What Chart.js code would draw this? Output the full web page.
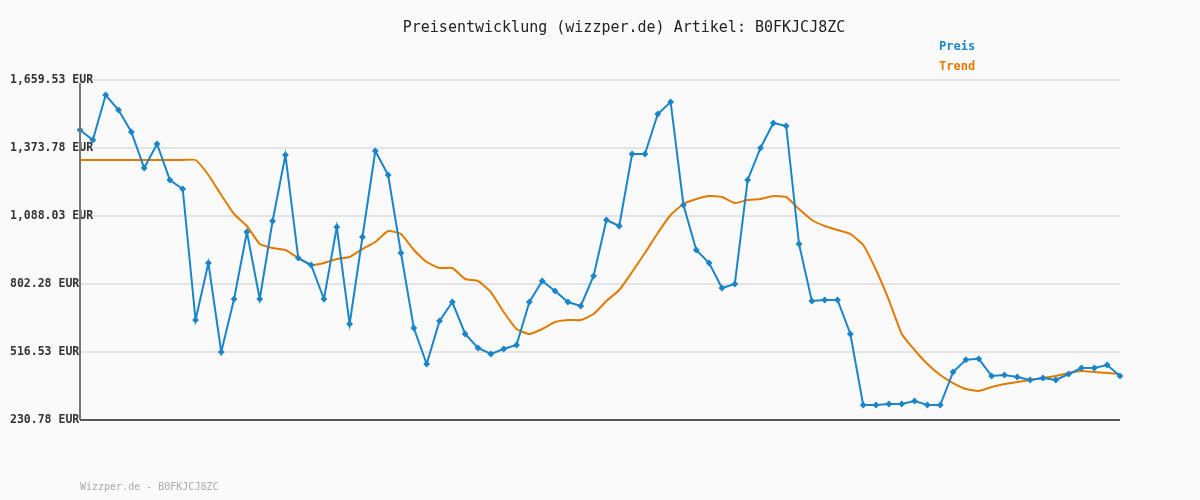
<!DOCTYPE html>
<html><head><meta charset="utf-8">
<script src="https://cdn.jsdelivr.net/npm/chart.js@4/dist/chart.umd.min.js"></script>
<style>html,body{margin:0;padding:0;background:#fafafa}#w{width:1200px;height:500px}</style>
</head><body><div id="w"><canvas id="c"></canvas></div>
<script>
const title = "Preisentwicklung (wizzper.de) Artikel: B0FKJCJ8ZC";
const footer = "Wizzper.de - B0FKJCJ8ZC";
const priceValues = [1449.4,1407.4,1596.5,1533.5,1441,1289.7,1390.6,1239.3,1201.5,651,890.5,516.5,739.2,1020.8,739.2,1067,1344.4,911.5,882.1,739.2,1041.8,634.2,999.8,1361.2,1260.3,932.5,617.4,466.1,646.8,726.6,592.2,533.3,508.1,529.1,545.9,726.6,814.9,772.9,726.6,709.8,835.9,1071.2,1046,1348.5,1348.5,1516.6,1567.1,1134.3,945.1,890.5,785.5,802.3,1239.3,1373.8,1478.8,1466.2,970.4,730.8,735,735,592.2,293.8,293.8,298,298,310.6,293.8,293.8,432.5,483.9,488,415.7,419.9,411.5,398.9,407.3,398.9,424.1,449.2,449.2,461.9,415.7];
const trendValues = [1323.4,1323.4,1323.4,1323.4,1323.4,1323.4,1323.4,1323.4,1323.4,1323.4,1260.3,1176.3,1096.4,1046,970.4,953.6,945.1,911.5,882.1,890.5,907.3,915.7,949.3,978.7,1025,1012.4,945.1,894.7,869.5,869.5,823.3,814.9,768.6,684.6,613.2,592.2,613.2,642.6,651,651,676.2,730.8,777,852.7,932.5,1016.6,1092.2,1138.5,1159.5,1172,1167.8,1142.6,1155.2,1159.5,1172,1167.8,1117.4,1071.2,1046,1029.2,1012.4,966.2,861.1,735,592.2,525,466.1,419.9,386.2,361,352.6,369.5,382.1,390.5,398.9,407.3,415.7,428.3,436.7,432.5,428.3,424.1];
const yTicks = [230.78,516.53,802.28,1088.03,1373.78,1659.53];
const labels = priceValues.map(()=> "");
const FONT = "'DejaVu Sans Mono', monospace";

const deco = {
  id:'deco',
  afterDraw(ch){
    const c = ch.ctx, y = ch.scales.y, a = ch.chartArea;
    c.save();
    c.fillStyle = '#222'; c.font = '15px '+FONT; c.textAlign='center'; c.textBaseline='middle';
    c.fillText(title, 624, 28);
    c.font = 'bold 12px '+FONT; c.textAlign='left';
    c.fillStyle = '#1a85c8'; c.fillText('Preis', 939, 47);
    c.fillStyle = '#e07b00'; c.fillText('Trend', 939, 67);
    c.fillStyle = '#333'; c.font = 'bold 11.5px '+FONT;
    yTicks.forEach(v=>{
      const s = v.toLocaleString('en-US',{minimumFractionDigits:2,maximumFractionDigits:2})+' EUR';
      c.fillText(s, 10, y.getPixelForValue(v));
    });
    c.strokeStyle='#777'; c.lineWidth=2;
    c.beginPath(); c.moveTo(a.left, a.top+3); c.lineTo(a.left, a.bottom); c.stroke();
    c.strokeStyle='#555';
    c.beginPath(); c.moveTo(a.left, a.bottom); c.lineTo(a.right, a.bottom); c.stroke();
    c.fillStyle='#aaa'; c.font='10px '+FONT;
    c.fillText(footer, 80, 487);
    c.restore();
  }
};

new Chart(document.getElementById('c'), {
  type:'line',
  data:{labels, datasets:[
    {label:'Trend', data:trendValues, borderColor:'#e07b00', borderWidth:2, pointRadius:0, tension:0.15, order:2},
    {label:'Preis', data:priceValues, borderColor:'#1a85c8', backgroundColor:'#1a85c8', borderWidth:2, pointRadius:2, pointStyle:'rectRot', tension:0, order:1}
  ]},
  options:{
    responsive:true, maintainAspectRatio:false, animation:false,
    layout:{padding:{left:0,right:80,top:80,bottom:80}},
    plugins:{legend:{display:false}, tooltip:{enabled:false}},
    scales:{
      x:{offset:false, grid:{display:false}, border:{display:false}, ticks:{display:false}, afterFit(s){s.height=0;}},
      y:{min:230.78, max:1659.53, afterBuildTicks(s){s.ticks = yTicks.map(v=>({value:v}));},
         grid:{color:'#e4e4e4', lineWidth:2, drawTicks:false}, border:{display:false},
         ticks:{display:false}, afterFit(s){s.width=80;}}
    }
  },
  plugins:[deco]
});
</script></body></html>
